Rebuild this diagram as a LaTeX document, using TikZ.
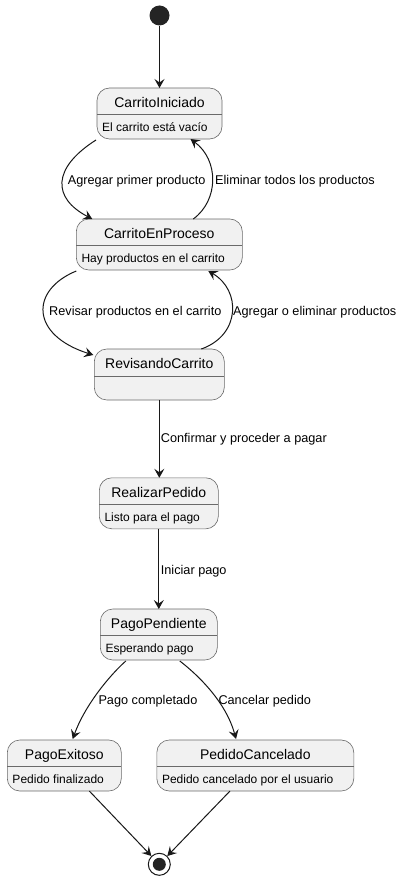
\documentclass[tikz,border=0pt]{standalone}
\usepackage{fontspec}
\setmainfont{Liberation Sans}
\usepackage{tikz}
\usetikzlibrary{arrows.meta}
\usetikzlibrary{calc}

\definecolor{stfill}{HTML}{F1F1F1}
\definecolor{stline}{HTML}{181818}
\definecolor{stborder}{HTML}{6A6A6A}

\tikzset{
    stbox/.style={draw=stborder, line width=0.6pt, fill=stfill, rounded corners=12.5pt,
        minimum height=51pt, inner sep=0pt, outer sep=0pt},
    sttitle/.style={font=\fontsize{14}{16}\selectfont, inner sep=0pt, anchor=base},
    stbody/.style={font=\fontsize{12}{14}\selectfont, inner sep=0pt, anchor=base west},
    divider/.style={draw=stborder, line width=0.6pt},
    trans/.style={draw=stline, line width=1pt, -{Stealth[length=9pt,width=10pt,inset=3.5pt]}},
    lbl/.style={font=\fontsize{12.7}{15}\selectfont, inner sep=0pt, anchor=base west},
}

\begin{document}
\begin{tikzpicture}[x=1pt, y=-1pt]
    \useasboundingbox[fill=white] (0,0) rectangle (405,880);

    % Start and End
    \node[circle, fill=stline!95, minimum size=20pt, inner sep=0pt] (st) at (159.5,15.5) {};
    \node[circle, draw=stline, line width=1pt, fill=white, minimum size=22pt, inner sep=0pt] (en) at (159.3,864.3) {};
    \node[circle, fill=stline!95, minimum size=13pt, inner sep=0pt] (enin) at (en) {};

    % States
    \node[stbox, minimum width=125pt] (ci) at (159.5,113.5) {};
    \node[stbox, minimum width=166pt] (cp) at (159.3,244.5) {};
    \node[stbox, minimum width=130pt] (rc) at (159.3,374.5) {};
    \node[stbox, minimum width=119pt] (rp) at (158.8,503.3) {};
    \node[stbox, minimum width=117pt] (pp) at (158.8,634.5) {};
    \node[stbox, minimum width=114pt] (pe) at (64.3,765.5) {};
    \node[stbox, minimum width=197pt] (pc) at (255.3,765.5) {};

    % Dividers
    \draw[divider] ($(ci.north west)+(0,26.5)$) -- ($(ci.north east)+(0,26.5)$);
    \draw[divider] ($(cp.north west)+(0,26.5)$) -- ($(cp.north east)+(0,26.5)$);
    \draw[divider] ($(rc.north west)+(0,27)$) -- ($(rc.north east)+(0,27)$);
    \draw[divider] ($(rp.north west)+(0,26.5)$) -- ($(rp.north east)+(0,26.5)$);
    \draw[divider] ($(pp.north west)+(0,26.5)$) -- ($(pp.north east)+(0,26.5)$);
    \draw[divider] ($(pe.north west)+(0,26.5)$) -- ($(pe.north east)+(0,26.5)$);
    \draw[divider] ($(pc.north west)+(0,26.5)$) -- ($(pc.north east)+(0,26.5)$);

    % Titles
    \node[sttitle] (ci-t) at ($(ci.north)+(0,19.5)$) {CarritoIniciado};
    \node[sttitle] (cp-t) at ($(cp.north)+(0,19.5)$) {CarritoEnProceso};
    \node[sttitle] (rc-t) at ($(rc.north)+(0,19.5)$) {RevisandoCarrito};
    \node[sttitle] (rp-t) at ($(rp.north)+(0,19.5)$) {RealizarPedido};
    \node[sttitle] (pp-t) at ($(pp.north)+(0,19.5)$) {PagoPendiente};
    \node[sttitle] (pe-t) at ($(pe.north)+(0,19.5)$) {PagoExitoso};
    \node[sttitle] (pc-t) at ($(pc.north)+(0,19.5)$) {PedidoCancelado};

    % Bodies
    \node[stbody] (ci-b) at ($(ci.north west)+(5,43.8)$) {El carrito está vacío};
    \node[stbody] (cp-b) at ($(cp.north west)+(5,43.8)$) {Hay productos en el carrito};
    \node[stbody] (rp-b) at ($(rp.north west)+(5,43.8)$) {Listo para el pago};
    \node[stbody] (pp-b) at ($(pp.north west)+(5,43.8)$) {Esperando pago};
    \node[stbody] (pe-b) at ($(pe.north west)+(5,43.8)$) {Pedido finalizado};
    \node[stbody] (pc-b) at ($(pc.north west)+(5,43.8)$) {Pedido cancelado por el usuario};

    % Transitions
    \draw[trans] (st) -- (ci);
    \draw[trans] ($(ci.south west)+(-1,1)$) .. controls (52,168) and (52,198) .. ($(cp.north west)+(16,0)$);
    \draw[trans] ($(cp.north)+(34,0)$) .. controls (219,200) and (219,160) .. ($(ci.south)+(31,0)$);
    \draw[trans] ($(cp.south west)+(0,1)$) .. controls (30,290) and (30,335) .. ($(rc.north west)+(-1,6)$);
    \draw[trans] ($(rc.north)+(42,0)$) .. controls (241,335) and (241,290) .. ($(cp.south)+(49,1)$);
    \draw[trans] (rc.south) -- (rc.south |- rp.north);
    \draw[trans] (rp) -- (pp);
    \draw[trans] ($(pp.south)+(-33,1)$) .. controls (110,675) and (85,705) .. ($(pe.north)+(8.4,-1)$);
    \draw[trans] ($(pp.south)+(21,1)$) .. controls (198,675) and (226,702) .. ($(pc.north)+(-19.3,-1)$);
    \draw[trans] ($(pe.south)+(25,0)$) -- (en);
    \draw[trans] ($(pc.south)+(-25.3,0)$) -- (en);

    % Labels
    \node[lbl] (l-agr) at (67.7,184.7) {Agregar primer producto};
    \node[lbl] (l-eli) at (215,184.7) {Eliminar todos los productos};
    \node[lbl] (l-rev) at (49,315.4) {Revisar productos en el carrito};
    \node[lbl] (l-mod) at (233,315.4) {Agregar o eliminar productos};
    \node[lbl] (l-con) at (160.7,442.7) {Confirmar y proceder a pagar};
    \node[lbl] (l-ini) at (160.7,574) {Iniciar pago};
    \node[lbl] (l-com) at (98.3,704.7) {Pago completado};
    \node[lbl] (l-can) at (218.3,704.7) {Cancelar pedido};

\end{tikzpicture}
\end{document}
